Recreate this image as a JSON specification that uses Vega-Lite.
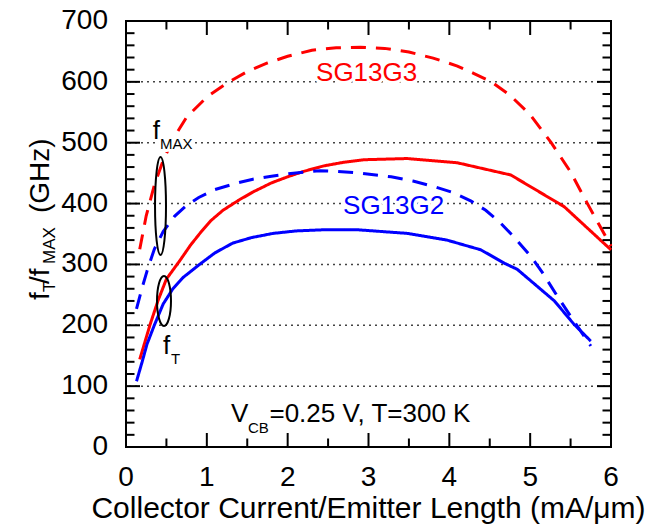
{
  "$schema": "https://vega.github.io/schema/vega-lite/v6.json",
  "width": 485,
  "height": 426,
  "autosize": {"type": "none"},
  "padding": {"left": 126, "top": 21, "right": 37, "bottom": 81},
  "background": "white",
  "config": {
    "font": "Liberation Sans",
    "view": {"stroke": "#000000", "strokeWidth": 2}
  },
  "datasets": {
    "curves": [
      {"process": "SG13G3", "metric": "fMAX", "x": 0.17, "y": 325},
      {"process": "SG13G3", "metric": "fMAX", "x": 0.25, "y": 380},
      {"process": "SG13G3", "metric": "fMAX", "x": 0.35, "y": 430},
      {"process": "SG13G3", "metric": "fMAX", "x": 0.46, "y": 471},
      {"process": "SG13G3", "metric": "fMAX", "x": 0.6, "y": 510},
      {"process": "SG13G3", "metric": "fMAX", "x": 0.75, "y": 542},
      {"process": "SG13G3", "metric": "fMAX", "x": 1.0, "y": 575},
      {"process": "SG13G3", "metric": "fMAX", "x": 1.25, "y": 598},
      {"process": "SG13G3", "metric": "fMAX", "x": 1.5, "y": 617},
      {"process": "SG13G3", "metric": "fMAX", "x": 1.75, "y": 631},
      {"process": "SG13G3", "metric": "fMAX", "x": 2.0, "y": 642},
      {"process": "SG13G3", "metric": "fMAX", "x": 2.3, "y": 652},
      {"process": "SG13G3", "metric": "fMAX", "x": 2.6, "y": 656},
      {"process": "SG13G3", "metric": "fMAX", "x": 2.9, "y": 657},
      {"process": "SG13G3", "metric": "fMAX", "x": 3.2, "y": 655},
      {"process": "SG13G3", "metric": "fMAX", "x": 3.5, "y": 649},
      {"process": "SG13G3", "metric": "fMAX", "x": 3.8, "y": 639},
      {"process": "SG13G3", "metric": "fMAX", "x": 4.1, "y": 626},
      {"process": "SG13G3", "metric": "fMAX", "x": 4.3, "y": 614},
      {"process": "SG13G3", "metric": "fMAX", "x": 4.52, "y": 600},
      {"process": "SG13G3", "metric": "fMAX", "x": 4.75, "y": 578},
      {"process": "SG13G3", "metric": "fMAX", "x": 5.0, "y": 546},
      {"process": "SG13G3", "metric": "fMAX", "x": 5.26, "y": 500},
      {"process": "SG13G3", "metric": "fMAX", "x": 5.5, "y": 452},
      {"process": "SG13G3", "metric": "fMAX", "x": 5.7, "y": 402},
      {"process": "SG13G3", "metric": "fMAX", "x": 5.85, "y": 366},
      {"process": "SG13G3", "metric": "fMAX", "x": 6.0, "y": 330},
      {"process": "SG13G3", "metric": "fT", "x": 0.17, "y": 144},
      {"process": "SG13G3", "metric": "fT", "x": 0.3, "y": 202},
      {"process": "SG13G3", "metric": "fT", "x": 0.4, "y": 242},
      {"process": "SG13G3", "metric": "fT", "x": 0.5, "y": 276},
      {"process": "SG13G3", "metric": "fT", "x": 0.67, "y": 307},
      {"process": "SG13G3", "metric": "fT", "x": 0.8, "y": 332},
      {"process": "SG13G3", "metric": "fT", "x": 0.92, "y": 352},
      {"process": "SG13G3", "metric": "fT", "x": 1.05, "y": 372},
      {"process": "SG13G3", "metric": "fT", "x": 1.2, "y": 389},
      {"process": "SG13G3", "metric": "fT", "x": 1.4, "y": 406},
      {"process": "SG13G3", "metric": "fT", "x": 1.57, "y": 419},
      {"process": "SG13G3", "metric": "fT", "x": 1.8, "y": 434},
      {"process": "SG13G3", "metric": "fT", "x": 2.0, "y": 444},
      {"process": "SG13G3", "metric": "fT", "x": 2.2, "y": 453},
      {"process": "SG13G3", "metric": "fT", "x": 2.45, "y": 462},
      {"process": "SG13G3", "metric": "fT", "x": 2.7, "y": 468},
      {"process": "SG13G3", "metric": "fT", "x": 2.94, "y": 472},
      {"process": "SG13G3", "metric": "fT", "x": 3.48, "y": 474},
      {"process": "SG13G3", "metric": "fT", "x": 4.1, "y": 467},
      {"process": "SG13G3", "metric": "fT", "x": 4.76, "y": 447},
      {"process": "SG13G3", "metric": "fT", "x": 5.42, "y": 395},
      {"process": "SG13G3", "metric": "fT", "x": 6.0, "y": 324},
      {"process": "SG13G2", "metric": "fMAX", "x": 0.13, "y": 227},
      {"process": "SG13G2", "metric": "fMAX", "x": 0.2, "y": 262},
      {"process": "SG13G2", "metric": "fMAX", "x": 0.26, "y": 289},
      {"process": "SG13G2", "metric": "fMAX", "x": 0.35, "y": 325},
      {"process": "SG13G2", "metric": "fMAX", "x": 0.46, "y": 354},
      {"process": "SG13G2", "metric": "fMAX", "x": 0.6, "y": 379},
      {"process": "SG13G2", "metric": "fMAX", "x": 0.75, "y": 397},
      {"process": "SG13G2", "metric": "fMAX", "x": 0.9, "y": 410},
      {"process": "SG13G2", "metric": "fMAX", "x": 1.1, "y": 423},
      {"process": "SG13G2", "metric": "fMAX", "x": 1.35, "y": 433},
      {"process": "SG13G2", "metric": "fMAX", "x": 1.57, "y": 440},
      {"process": "SG13G2", "metric": "fMAX", "x": 1.8, "y": 445},
      {"process": "SG13G2", "metric": "fMAX", "x": 2.07, "y": 450},
      {"process": "SG13G2", "metric": "fMAX", "x": 2.4, "y": 454},
      {"process": "SG13G2", "metric": "fMAX", "x": 2.6, "y": 453},
      {"process": "SG13G2", "metric": "fMAX", "x": 2.9, "y": 450},
      {"process": "SG13G2", "metric": "fMAX", "x": 3.28, "y": 444},
      {"process": "SG13G2", "metric": "fMAX", "x": 3.55, "y": 437},
      {"process": "SG13G2", "metric": "fMAX", "x": 3.81, "y": 428},
      {"process": "SG13G2", "metric": "fMAX", "x": 4.05, "y": 418},
      {"process": "SG13G2", "metric": "fMAX", "x": 4.27, "y": 404},
      {"process": "SG13G2", "metric": "fMAX", "x": 4.45, "y": 389},
      {"process": "SG13G2", "metric": "fMAX", "x": 4.62, "y": 370},
      {"process": "SG13G2", "metric": "fMAX", "x": 4.8, "y": 345},
      {"process": "SG13G2", "metric": "fMAX", "x": 5.01, "y": 313},
      {"process": "SG13G2", "metric": "fMAX", "x": 5.15, "y": 287},
      {"process": "SG13G2", "metric": "fMAX", "x": 5.33, "y": 249},
      {"process": "SG13G2", "metric": "fMAX", "x": 5.54, "y": 207},
      {"process": "SG13G2", "metric": "fMAX", "x": 5.75, "y": 166},
      {"process": "SG13G2", "metric": "fT", "x": 0.13, "y": 108},
      {"process": "SG13G2", "metric": "fT", "x": 0.2, "y": 140},
      {"process": "SG13G2", "metric": "fT", "x": 0.26, "y": 169},
      {"process": "SG13G2", "metric": "fT", "x": 0.35, "y": 200},
      {"process": "SG13G2", "metric": "fT", "x": 0.46, "y": 235},
      {"process": "SG13G2", "metric": "fT", "x": 0.58, "y": 260},
      {"process": "SG13G2", "metric": "fT", "x": 0.71, "y": 279},
      {"process": "SG13G2", "metric": "fT", "x": 0.92, "y": 301},
      {"process": "SG13G2", "metric": "fT", "x": 1.1, "y": 319},
      {"process": "SG13G2", "metric": "fT", "x": 1.32, "y": 335},
      {"process": "SG13G2", "metric": "fT", "x": 1.55, "y": 344},
      {"process": "SG13G2", "metric": "fT", "x": 1.82, "y": 351},
      {"process": "SG13G2", "metric": "fT", "x": 2.1, "y": 355},
      {"process": "SG13G2", "metric": "fT", "x": 2.45, "y": 357},
      {"process": "SG13G2", "metric": "fT", "x": 2.86, "y": 357},
      {"process": "SG13G2", "metric": "fT", "x": 3.48, "y": 351},
      {"process": "SG13G2", "metric": "fT", "x": 3.97, "y": 340},
      {"process": "SG13G2", "metric": "fT", "x": 4.39, "y": 324},
      {"process": "SG13G2", "metric": "fT", "x": 4.68, "y": 302},
      {"process": "SG13G2", "metric": "fT", "x": 4.84, "y": 292},
      {"process": "SG13G2", "metric": "fT", "x": 5.3, "y": 240},
      {"process": "SG13G2", "metric": "fT", "x": 5.54, "y": 202},
      {"process": "SG13G2", "metric": "fT", "x": 5.75, "y": 174}
    ],
    "notes": [
      {"text": "SG13G3", "process": "SG13G3", "x": 2.351, "y": 601.4},
      {"text": "SG13G2", "process": "SG13G2", "x": 2.685, "y": 382.8},
      {"text": "f", "process": "note", "x": 0.33, "y": 505.6},
      {"text": "f", "process": "note", "x": 0.458, "y": 152.8},
      {"text": "V", "process": "note", "x": 1.299, "y": 41.1},
      {"text": "=0.25 V, T=300 K", "process": "note", "x": 1.775, "y": 41.1}
    ],
    "subs": [
      {"text": "MAX", "x": 0.42, "y": 489.6},
      {"text": "T", "x": 0.557, "y": 136.4},
      {"text": "CB", "x": 1.509, "y": 23}
    ],
    "ell1": [{"x": 0.427, "y": 396}],
    "ell2": [{"x": 0.47, "y": 240}],
    "ytitle": [
      {"text": "f", "x": -0.953, "y": 241.5},
      {"text": "/f", "x": -0.953, "y": 267.8},
      {"text": "(GHz)", "x": -0.953, "y": 384.5}
    ],
    "ytitlesub": [
      {"text": "T", "x": -0.878, "y": 254.7},
      {"text": "MAX", "x": -0.878, "y": 300.7}
    ],
    "xtitle": [{"title": "Collector Current/Emitter Length (mA/μm)"}],
    "xlabels": [{"v": 0}, {"v": 1}, {"v": 2}, {"v": 3}, {"v": 4}, {"v": 5}, {"v": 6}],
    "ylabels": [{"v": 0}, {"v": 100}, {"v": 200}, {"v": 300}, {"v": 400}, {"v": 500}, {"v": 600}, {"v": 700}],
    "grid": [{"v": 100}, {"v": 200}, {"v": 300}, {"v": 400}, {"v": 500}, {"v": 600}],
    "xmajor": [{"v": 1}, {"v": 2}, {"v": 3}, {"v": 4}, {"v": 5}],
    "xminor": [{"v": 0.5}, {"v": 1.5}, {"v": 2.5}, {"v": 3.5}, {"v": 4.5}, {"v": 5.5}],
    "ymajor": [{"v": 100}, {"v": 200}, {"v": 300}, {"v": 400}, {"v": 500}, {"v": 600}],
    "yminor": [{"v": 20}, {"v": 40}, {"v": 60}, {"v": 80}, {"v": 120}, {"v": 140}, {"v": 160}, {"v": 180}, {"v": 220}, {"v": 240}, {"v": 260}, {"v": 280}, {"v": 320}, {"v": 340}, {"v": 360}, {"v": 380}, {"v": 420}, {"v": 440}, {"v": 460}, {"v": 480}, {"v": 520}, {"v": 540}, {"v": 560}, {"v": 580}, {"v": 620}, {"v": 640}, {"v": 660}, {"v": 680}]
  },
  "layer": [
    {
      "data": {"name": "grid"},
      "mark": {"type": "rule", "strokeDash": [2, 4], "color": "#444444", "strokeWidth": 1.5},
      "encoding": {
        "y": {"field": "v", "type": "quantitative", "scale": {"domain": [0, 700], "nice": false, "zero": false}, "axis": null}
      }
    },
    {
      "data": {"name": "curves"},
      "mark": {"type": "line", "strokeWidth": 3},
      "encoding": {
        "x": {"field": "x", "type": "quantitative", "scale": {"domain": [0, 6], "nice": false, "zero": false}, "axis": null},
        "y": {"field": "y", "type": "quantitative", "scale": {"domain": [0, 700], "nice": false, "zero": false}, "axis": null},
        "color": {"field": "process", "type": "nominal", "scale": {"domain": ["SG13G3", "SG13G2", "note"], "range": ["#ff0000", "#0000ff", "#000000"]}, "legend": null},
        "strokeDash": {"field": "metric", "type": "nominal", "scale": {"domain": ["fT", "fMAX"], "range": [[1, 0], [15, 10]]}, "legend": null}
      }
    },
    {
      "data": {"name": "xmajor"},
      "mark": {"type": "tick", "orient": "vertical", "size": 28, "thickness": 2, "color": "#000000", "opacity": 1, "clip": true},
      "encoding": {
        "x": {"field": "v", "type": "quantitative", "axis": null},
        "y": {"datum": 0, "type": "quantitative", "axis": null}
      }
    },
    {
      "data": {"name": "xmajor"},
      "mark": {"type": "tick", "orient": "vertical", "size": 28, "thickness": 2, "color": "#000000", "opacity": 1, "clip": true},
      "encoding": {
        "x": {"field": "v", "type": "quantitative", "axis": null},
        "y": {"datum": 700, "type": "quantitative", "axis": null}
      }
    },
    {
      "data": {"name": "xminor"},
      "mark": {"type": "tick", "orient": "vertical", "size": 17, "thickness": 2, "color": "#000000", "opacity": 1, "clip": true},
      "encoding": {
        "x": {"field": "v", "type": "quantitative", "axis": null},
        "y": {"datum": 0, "type": "quantitative", "axis": null}
      }
    },
    {
      "data": {"name": "xminor"},
      "mark": {"type": "tick", "orient": "vertical", "size": 17, "thickness": 2, "color": "#000000", "opacity": 1, "clip": true},
      "encoding": {
        "x": {"field": "v", "type": "quantitative", "axis": null},
        "y": {"datum": 700, "type": "quantitative", "axis": null}
      }
    },
    {
      "data": {"name": "ymajor"},
      "mark": {"type": "tick", "orient": "horizontal", "size": 28, "thickness": 2, "color": "#000000", "opacity": 1, "clip": true},
      "encoding": {
        "y": {"field": "v", "type": "quantitative", "axis": null},
        "x": {"datum": 0, "type": "quantitative", "axis": null}
      }
    },
    {
      "data": {"name": "ymajor"},
      "mark": {"type": "tick", "orient": "horizontal", "size": 28, "thickness": 2, "color": "#000000", "opacity": 1, "clip": true},
      "encoding": {
        "y": {"field": "v", "type": "quantitative", "axis": null},
        "x": {"datum": 6, "type": "quantitative", "axis": null}
      }
    },
    {
      "data": {"name": "yminor"},
      "mark": {"type": "tick", "orient": "horizontal", "size": 17, "thickness": 2, "color": "#000000", "opacity": 1, "clip": true},
      "encoding": {
        "y": {"field": "v", "type": "quantitative", "axis": null},
        "x": {"datum": 0, "type": "quantitative", "axis": null}
      }
    },
    {
      "data": {"name": "yminor"},
      "mark": {"type": "tick", "orient": "horizontal", "size": 17, "thickness": 2, "color": "#000000", "opacity": 1, "clip": true},
      "encoding": {
        "y": {"field": "v", "type": "quantitative", "axis": null},
        "x": {"datum": 6, "type": "quantitative", "axis": null}
      }
    },
    {
      "data": {"name": "xlabels"},
      "mark": {"type": "text", "align": "center", "baseline": "top", "fontSize": 28, "color": "#000000"},
      "encoding": {
        "x": {"field": "v", "type": "quantitative", "axis": null},
        "y": {"datum": -27.9, "type": "quantitative", "axis": null},
        "text": {"field": "v", "type": "quantitative", "format": "d"}
      }
    },
    {
      "data": {"name": "ylabels"},
      "mark": {"type": "text", "align": "right", "baseline": "middle", "fontSize": 28, "color": "#000000"},
      "encoding": {
        "y": {"field": "v", "type": "quantitative", "axis": null},
        "x": {"datum": -0.2227, "type": "quantitative", "axis": null},
        "text": {"field": "v", "type": "quantitative", "format": "d"}
      }
    },
    {
      "data": {"name": "xtitle"},
      "mark": {"type": "text", "align": "center", "baseline": "alphabetic", "fontSize": 30, "color": "#000000"},
      "encoding": {
        "x": {"datum": 3, "type": "quantitative", "axis": null},
        "y": {"datum": -117, "type": "quantitative", "axis": null},
        "text": {"field": "title", "type": "nominal"}
      }
    },
    {
      "data": {"name": "ell1"},
      "mark": {"type": "point", "shape": "M0,-1 A0.112,1 0 1,1 0,1 A0.112,1 0 1,1 0,-1 Z", "size": 9604, "filled": false, "stroke": "#000000", "strokeWidth": 2, "opacity": 1},
      "encoding": {
        "x": {"field": "x", "type": "quantitative", "axis": null},
        "y": {"field": "y", "type": "quantitative", "axis": null}
      }
    },
    {
      "data": {"name": "ell2"},
      "mark": {"type": "point", "shape": "M0,-1 A0.28,1 0 1,1 0,1 A0.28,1 0 1,1 0,-1 Z", "size": 2500, "filled": false, "stroke": "#000000", "strokeWidth": 2, "opacity": 1},
      "encoding": {
        "x": {"field": "x", "type": "quantitative", "axis": null},
        "y": {"field": "y", "type": "quantitative", "axis": null}
      }
    },
    {
      "data": {"name": "notes"},
      "mark": {"type": "text", "align": "left", "baseline": "alphabetic", "fontSize": 26, "fill": "#ffffff", "stroke": "#ffffff", "strokeWidth": 6, "strokeJoin": "round"},
      "encoding": {
        "x": {"field": "x", "type": "quantitative", "axis": null},
        "y": {"field": "y", "type": "quantitative", "axis": null},
        "text": {"field": "text", "type": "nominal"}
      }
    },
    {
      "data": {"name": "subs"},
      "mark": {"type": "text", "align": "left", "baseline": "alphabetic", "fontSize": 15, "fill": "#ffffff", "stroke": "#ffffff", "strokeWidth": 6, "strokeJoin": "round"},
      "encoding": {
        "x": {"field": "x", "type": "quantitative", "axis": null},
        "y": {"field": "y", "type": "quantitative", "axis": null},
        "text": {"field": "text", "type": "nominal"}
      }
    },
    {
      "data": {"name": "notes"},
      "mark": {"type": "text", "align": "left", "baseline": "alphabetic", "fontSize": 26},
      "encoding": {
        "x": {"field": "x", "type": "quantitative", "axis": null},
        "y": {"field": "y", "type": "quantitative", "axis": null},
        "text": {"field": "text", "type": "nominal"},
        "color": {"field": "process", "type": "nominal", "scale": {"domain": ["SG13G3", "SG13G2", "note"], "range": ["#ff0000", "#0000ff", "#000000"]}, "legend": null}
      }
    },
    {
      "data": {"name": "subs"},
      "mark": {"type": "text", "align": "left", "baseline": "alphabetic", "fontSize": 15, "color": "#000000"},
      "encoding": {
        "x": {"field": "x", "type": "quantitative", "axis": null},
        "y": {"field": "y", "type": "quantitative", "axis": null},
        "text": {"field": "text", "type": "nominal"}
      }
    },
    {
      "data": {"name": "ytitle"},
      "mark": {"type": "text", "align": "left", "baseline": "alphabetic", "fontSize": 28, "angle": 270, "color": "#000000"},
      "encoding": {
        "x": {"field": "x", "type": "quantitative", "axis": null},
        "y": {"field": "y", "type": "quantitative", "axis": null},
        "text": {"field": "text", "type": "nominal"}
      }
    },
    {
      "data": {"name": "ytitlesub"},
      "mark": {"type": "text", "align": "left", "baseline": "alphabetic", "fontSize": 17, "angle": 270, "color": "#000000"},
      "encoding": {
        "x": {"field": "x", "type": "quantitative", "axis": null},
        "y": {"field": "y", "type": "quantitative", "axis": null},
        "text": {"field": "text", "type": "nominal"}
      }
    }
  ]
}
